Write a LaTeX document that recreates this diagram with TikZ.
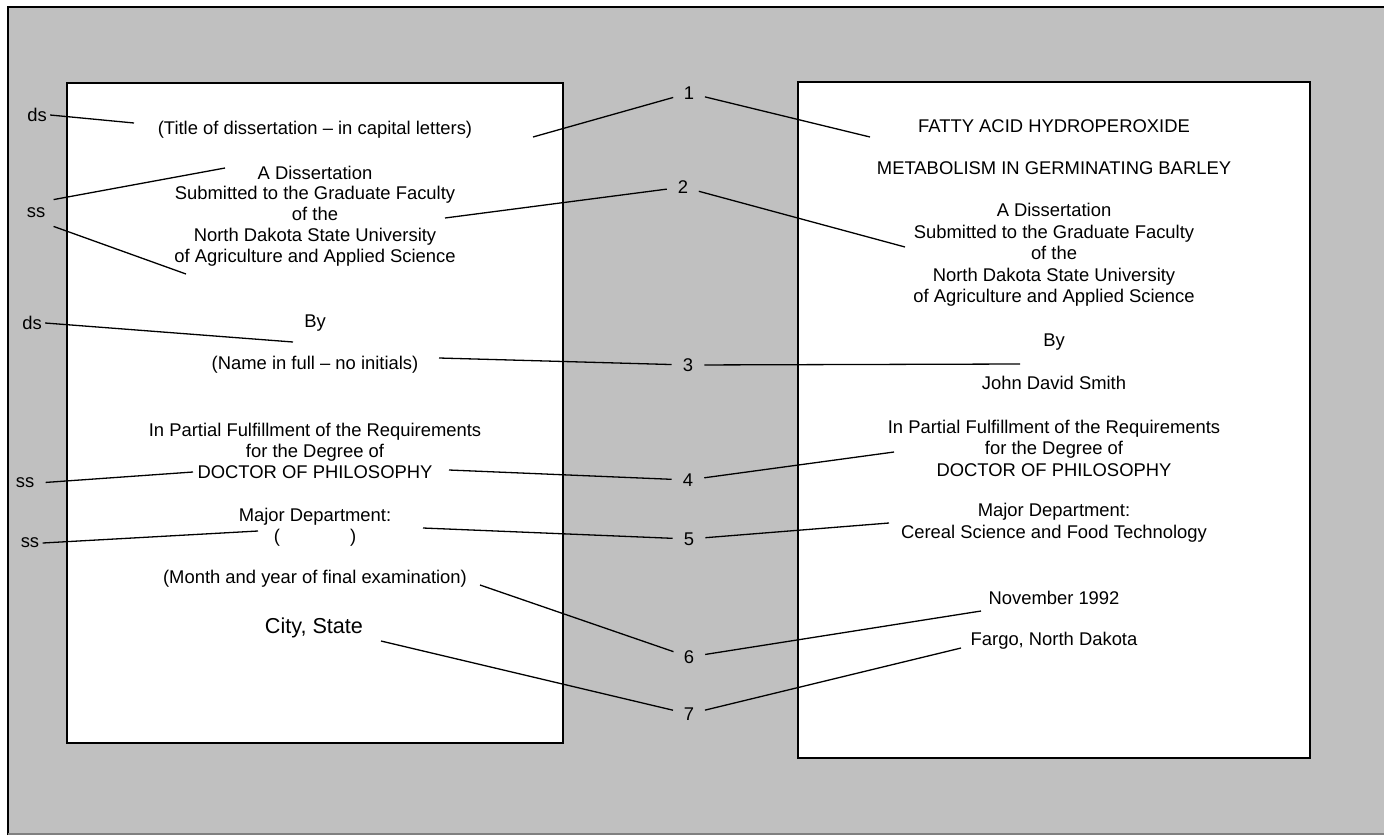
\documentclass[tikz,border=0pt]{standalone}
\usepackage{fontspec}
\setmainfont{Liberation Sans}
\definecolor{bg}{HTML}{C0C0C0}
\tikzset{
  txt/.style={font=\fontsize{9.2}{10.4}\selectfont, align=center, inner sep=0pt},
  txtr/.style={font=\fontsize{9.2}{10.75}\selectfont, align=center, inner sep=0pt},
  lbl/.style={font=\fontsize{9.2}{11}\selectfont, inner sep=1.5pt},
  num/.style={font=\fontsize{9.2}{11}\selectfont, circle, inner sep=0pt, minimum size=16pt},
  conn/.style={line width=0.65pt, black},
  pagebox/.style={fill=white, draw=black, line width=1pt},
}
\begin{document}
\begin{tikzpicture}[x=0.5pt,y=-0.5pt]
\useasboundingbox (0,0) rectangle (1384,835);
% background
\fill[bg] (8,7) rectangle (1384,835);
\draw[black, line width=1pt] (8,835) -- (8,7) -- (1384,7);
\draw[gray, line width=0.6pt] (8,834) -- (1384,834);
% pages
\draw[pagebox] (67,83) rectangle (563,743);
\draw[pagebox] (798,82) rectangle (1310,758);

% left page texts
\node[txt] (ltitle) at (315,130) {(Title of dissertation – in capital letters)};
\node[txt] (ldiss) at (315,216) {A Dissertation\\Submitted to the Graduate Faculty\\of the\\North Dakota State University\\of Agriculture and Applied Science};
\node[txt] (lby) at (315,323) {By};
\node[txt] (lname) at (315,365) {(Name in full – no initials)};
\node[txt] (lpart) at (315,451) {In Partial Fulfillment of the Requirements\\for the Degree of\\DOCTOR OF PHILOSOPHY};
\node[txt] (lmajor) at (315,527) {Major Department:\\(\hspace{35pt})};
\node[txt] (lmonth) at (315,579) {(Month and year of final examination)};
\node[txt, font=\fontsize{10.8}{13}\selectfont] (lcity) at (314,628) {City, State};

% right page texts
\node[txtr] (rt1) at (1054,126) {FATTY ACID HYDROPEROXIDE};
\node[txtr] (rt2) at (1054,168) {METABOLISM IN GERMINATING BARLEY};
\node[txtr] (rdiss) at (1054,255) {A Dissertation\\Submitted to the Graduate Faculty\\of the\\North Dakota State University\\of Agriculture and Applied Science};
\node[txtr] (rby) at (1054,342) {By};
\node[txtr] (rname) at (1054,383) {John David Smith};
\node[txtr] (rpart) at (1054,448) {In Partial Fulfillment of the Requirements\\for the Degree of\\DOCTOR OF PHILOSOPHY};
\node[txtr] (rmajor) at (1054,522.5) {Major Department:\\Cereal Science and Food Technology};
\node[txtr] (rnov) at (1054,598) {November 1992};
\node[txtr] (rfargo) at (1054,641) {Fargo, North Dakota};

% spacing labels
\node[lbl] (ds1) at (37,115) {ds};
\node[lbl, inner sep=4pt] (ss1) at (36,213) {ss};
\node[lbl] (ds2) at (32,323) {ds};
\node[lbl] (ss2) at (25,483) {ss};
\node[lbl] (ss3) at (30,543) {ss};

\coordinate (eds1) at (134,123);
\coordinate (ess1a) at (225,168);
\coordinate (ess1b) at (186,274);
\coordinate (eds2) at (293,342);
\coordinate (ess2) at (193,472);
\coordinate (ess3) at (258,531);

\draw[conn] (ds1.east) -- (eds1);
\draw[conn] (ss1.north east) -- (ess1a);
\draw[conn] (ss1.south east) -- (ess1b);
\draw[conn] (ds2.east) -- (eds2);
\draw[conn, shorten <=4pt] (ss2.east) -- (ess2);
\draw[conn] (ss3.east) -- (ess3);

% numbers
\node[num] (n1) at (689,93) {1};
\node[num] (n2) at (683,187) {2};
\node[num] (n3) at (688,365) {3};
\node[num] (n4) at (688,480) {4};
\node[num] (n5) at (689,539) {5};
\node[num] (n6) at (689,657) {6};
\node[num] (n7) at (689,714) {7};

\coordinate (a1l) at (533,137); \coordinate (a1r) at (870,137);
\coordinate (a2l) at (445,218); \coordinate (a2r) at (905,247);
\coordinate (a3l) at (439,358); \coordinate (a3r) at (1020,364);
\coordinate (a4l) at (449,470); \coordinate (a4r) at (894,452);
\coordinate (a5l) at (423,528); \coordinate (a5r) at (889,523);
\coordinate (a6l) at (480,585); \coordinate (a6r) at (981,611);
\coordinate (a7l) at (381,641); \coordinate (a7r) at (961,648);

\foreach \i in {1,...,7}{
  \draw[conn] (a\i l) -- (n\i);
  \draw[conn] (n\i) -- (a\i r);
}
\end{tikzpicture}
\end{document}
